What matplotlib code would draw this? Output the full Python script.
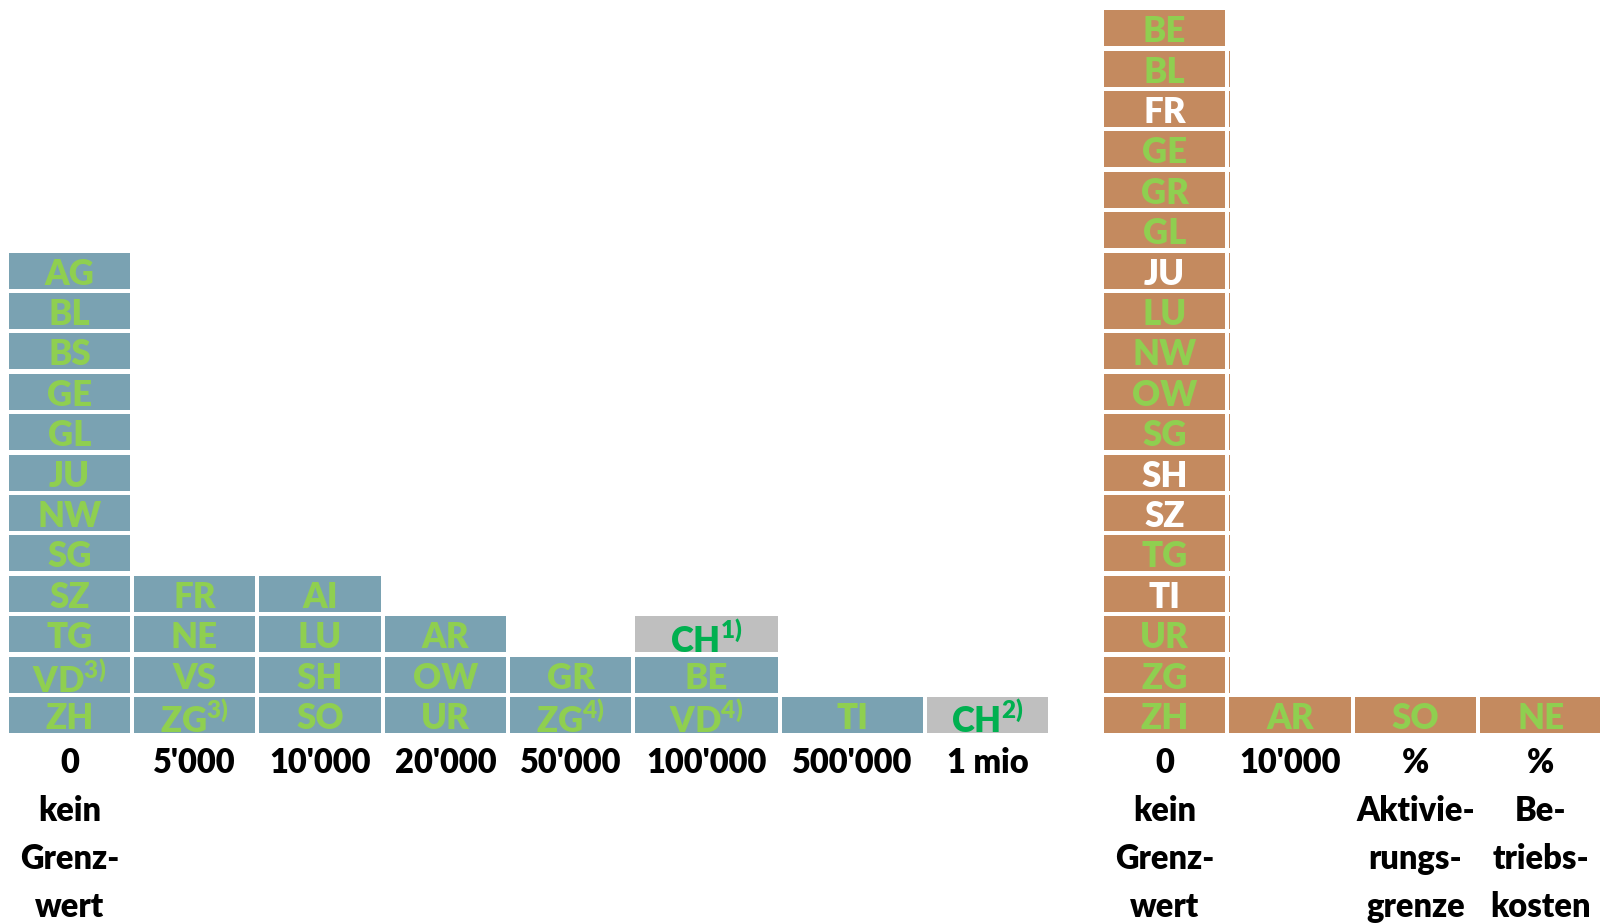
import re
import matplotlib
matplotlib.use("Agg")
import matplotlib.pyplot as plt
from matplotlib.transforms import Bbox, TransformedBbox

plt.rcParams['font.family'] = ['Lato', 'DejaVu Sans']
plt.rcParams['font.weight'] = 'heavy'
plt.rcParams['mathtext.fontset'] = 'custom'
plt.rcParams['mathtext.rm'] = 'Lato:heavy'
plt.rcParams['mathtext.bf'] = 'Lato:heavy'

# left block: threshold classes and cantons (bottom to top)
left_labels = [["0", "kein", "Grenz-", "wert"], ["5'000"], ["10'000"], ["20'000"],
               ["50'000"], ["100'000"], ["500'000"], ["1 mio"]]
left_cantons = [
    ["ZH", "VD3)", "TG", "SZ", "SG", "NW", "JU", "GL", "GE", "BS", "BL", "AG"],
    ["ZG3)", "VS", "NE", "FR"],
    ["SO", "SH", "LU", "AI"],
    ["UR", "OW", "AR"],
    ["ZG4)", "GR"],
    ["VD4)", "BE", "CH1)"],
    ["TI"],
    ["CH2)"],
]

# right block
right_labels = [["0", "kein", "Grenz-", "wert"], ["10'000"],
                ["%", "Aktivie-", "rungs-", "grenze"], ["%", "Be-", "triebs-", "kosten"]]
right_cantons = [
    ["ZH", "ZG", "UR", "TI", "TG", "SZ", "SH", "SG", "OW", "NW", "LU", "JU",
     "GL", "GR", "GE", "FR", "BL", "BE"],
    ["AR"],
    ["SO"],
    ["NE"],
]
right_white = ["FR", "JU", "SH", "SZ", "TI"]

# layout (pixels)
left_x = [9, 134, 259, 385, 510, 635, 782, 927]
left_w = [121, 121, 122, 121, 121, 143, 141, 121]
right_x = [1104, 1229, 1355, 1480]
right_w = [121, 122, 121, 122]
pitch = 40.4          # row pitch in px
base_px = 733         # bottom of row 0
cell_h = 36 / pitch

blue = "#7AA2B2"
brown = "#C48A5F"
grey = "#BFBFBF"
lgreen = "#8FCF50"
dgreen = "#00B050"

fig = plt.figure(figsize=(16, 9.23), dpi=100)
ax = fig.add_axes([0, 0, 1, 1])
ax.set_xlim(0, 1600)
ax.set_ylim((base_px - 923) / pitch, base_px / pitch)
ax.axis('off')


def row_y(px):
    return (base_px - px) / pitch


def draw_cell(x, w, r, name, face, txtcol):
    ax.bar(x, cell_h, width=w, bottom=r, align='edge', color=face, linewidth=0)
    m = re.match(r"^([A-Z]+)(\d\))$", name)
    cx = x + w / 2
    if m:
        t = ax.text(cx, r - 0.01, r"$\mathrm{%s}^{%s}$" % (m.group(1), m.group(2)),
                    ha='center', va='baseline', fontsize=25, color=txtcol)
        clip = TransformedBbox(Bbox.from_extents(x, r, x + w, r + cell_h), ax.transData)
        t.set_clip_box(clip)
        t.set_clip_on(True)
    else:
        ax.text(cx, r + 0.1, name, ha='center', va='baseline', fontsize=25,
                color=txtcol)


def draw_labels(x, w, lines):
    for i, s in enumerate(lines):
        ax.text(x + w / 2, row_y(773 + 48 * i), s, ha='center', va='baseline',
                fontsize=23.5, color='black')


for x, w, names, lab in zip(left_x, left_w, left_cantons, left_labels):
    for r, name in enumerate(names):
        if name.startswith("CH"):
            draw_cell(x, w, r, name, grey, dgreen)
        else:
            draw_cell(x, w, r, name, blue, lgreen)
    draw_labels(x, w, lab)

for x, w, names, lab in zip(right_x, right_w, right_cantons, right_labels):
    for r, name in enumerate(names):
        col = 'white' if name in right_white else lgreen
        draw_cell(x, w, r, name, brown, col)
    draw_labels(x, w, lab)

# thin remnant strip next to the tall right column
for r in range(len(right_cantons[1]), len(right_cantons[0]) - 1):
    ax.bar(right_x[1], cell_h, width=1.3, bottom=r, align='edge', color=brown,
           linewidth=0)

fig.savefig("out.png", dpi=100)
